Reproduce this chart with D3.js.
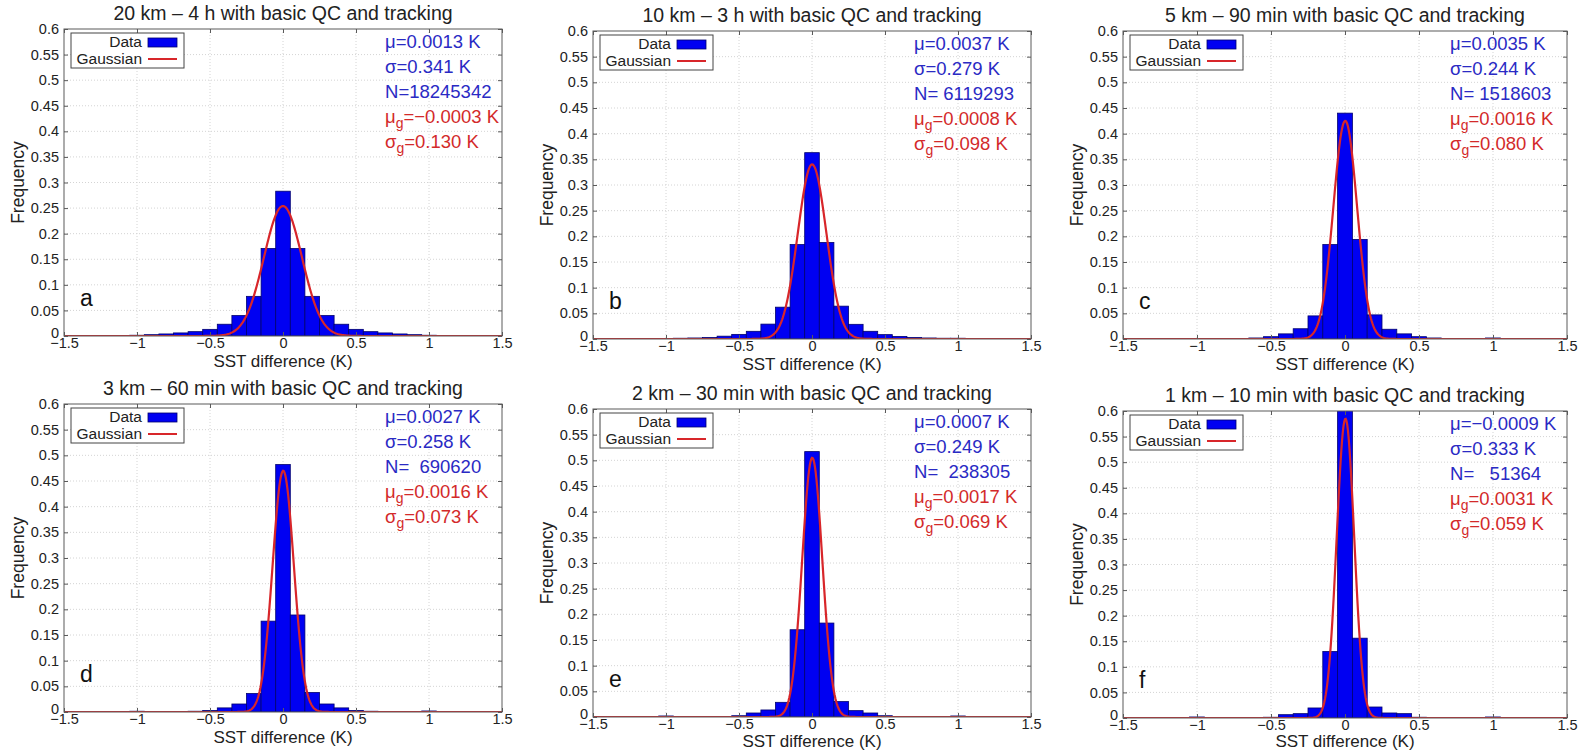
<!DOCTYPE html>
<html>
<head>
<meta charset="utf-8">
<script src="https://cdn.jsdelivr.net/npm/d3@7"></script>
<style>
    body { margin: 0; background: #fff; }
    svg { display: block; font-family: "Liberation Sans", Arial, sans-serif; }
</style>
</head>
<body>
<svg id="chart" width="1592" height="752"></svg>
<script>

//
// ***********************************************************************************
//                      DATA
// ***********************************************************************************
//

// Bin centres (K), bins are 0.1 K wide.
const binCenters = [-1.5, -1.4, -1.3, -1.2, -1.1, -1.0, -0.9, -0.8, -0.7, -0.6, -0.5, -0.4, -0.3, -0.2, -0.1,
    0, 0.1, 0.2, 0.3, 0.4, 0.5, 0.6, 0.7, 0.8, 0.9, 1.0, 1.1, 1.2, 1.3, 1.4, 1.5];

const xTicks = [-1.5, -1, -0.5, 0, 0.5, 1, 1.5];
const yTicks = [0, 0.05, 0.1, 0.15, 0.2, 0.25, 0.3, 0.35, 0.4, 0.45, 0.5, 0.55, 0.6];

const panelTitles = [
    "20 km \u2013 4 h with basic QC and tracking",
    "10 km \u2013 3 h with basic QC and tracking",
    "5 km \u2013 90 min with basic QC and tracking",
    "3 km \u2013 60 min with basic QC and tracking",
    "2 km \u2013 30 min with basic QC and tracking",
    "1 km \u2013 10 min with basic QC and tracking"
];
const panelLetters = ["a", "b", "c", "d", "e", "f"];

// Histogram frequencies, one array per panel (same order as binCenters).
const freqA = [0.0003, 0.0004, 0.0005, 0.0007, 0.001, 0.0015, 0.0026, 0.004, 0.006, 0.0085, 0.013, 0.023, 0.040, 0.0775, 0.171,
    0.283, 0.171, 0.0775, 0.040, 0.023, 0.013, 0.0085, 0.006, 0.004, 0.0026, 0.0015, 0.001, 0.0007, 0.0005, 0.0004, 0.0003];
const freqB = [0.0002, 0.0003, 0.0004, 0.0005, 0.0007, 0.001, 0.0015, 0.002, 0.003, 0.0055, 0.009, 0.015, 0.029, 0.062, 0.184,
    0.363, 0.188, 0.064, 0.0286, 0.015, 0.0085, 0.005, 0.003, 0.002, 0.0015, 0.0015, 0.0007, 0.0005, 0.0004, 0.0003, 0.0002];
const freqC = [0.0001, 0.0001, 0.0001, 0.0001, 0.0001, 0.001, 0.0005, 0.0007, 0.001, 0.002, 0.0045, 0.010, 0.020, 0.045, 0.184,
    0.440, 0.194, 0.047, 0.019, 0.010, 0.0045, 0.002, 0.001, 0.0007, 0.0005, 0.002, 0.0001, 0.0001, 0.0001, 0.0001, 0.0001];
const freqD = [0.0001, 0.0001, 0.0001, 0.0001, 0.0001, 0.0015, 0.0004, 0.0005, 0.0008, 0.0015, 0.003, 0.008, 0.0156, 0.036, 0.177,
    0.482, 0.189, 0.038, 0.0156, 0.008, 0.003, 0.0015, 0.0008, 0.0005, 0.0004, 0.002, 0.0001, 0.0001, 0.0001, 0.0001, 0.0001];
const freqE = [0.0002, 0.0002, 0.0002, 0.0002, 0.0002, 0.002, 0.0002, 0.0002, 0.0004, 0.001, 0.0025, 0.0078, 0.0137, 0.0286, 0.170,
    0.517, 0.183, 0.030, 0.0124, 0.0078, 0.0025, 0.001, 0.0004, 0.0002, 0.0002, 0.002, 0.0002, 0.0002, 0.0002, 0.0002, 0.0002];
const freqF = [0.0002, 0.0002, 0.0002, 0.0002, 0.0002, 0.002, 0.0002, 0.0002, 0.0004, 0.001, 0.0015, 0.0065, 0.0085, 0.0196, 0.130,
    0.620, 0.156, 0.0215, 0.0098, 0.0085, 0.0015, 0.001, 0.0004, 0.0002, 0.0002, 0.002, 0.0002, 0.0002, 0.0002, 0.0002, 0.0002];
const frequencies = [freqA, freqB, freqC, freqD, freqE, freqF];

// Statistics printed in each panel.
const statMu     = ["0.0013", "0.0037", "0.0035", "0.0027", "0.0007", "\u22120.0009"];
const statSigma  = ["0.341", "0.279", "0.244", "0.258", "0.249", "0.333"];
const statN      = ["18245342", " 6119293", " 1518603", "  690620", "  238305", "   51364"];
const gaussMu    = [-0.0003, 0.0008, 0.0016, 0.0016, 0.0017, 0.0031];
const gaussSigma = [0.130, 0.098, 0.080, 0.073, 0.069, 0.059];
const gaussPeak  = [0.254, 0.340, 0.425, 0.470, 0.505, 0.585];

//
// ***********************************************************************************
//                      LAYOUT
// ***********************************************************************************
//

const panelBoxes = [
    { left: 64,   right: 502,  top: 29,  bottom: 336 },
    { left: 593,  right: 1031, top: 31,  bottom: 339 },
    { left: 1123, right: 1567, top: 31,  bottom: 339 },
    { left: 64,   right: 502,  top: 404, bottom: 712 },
    { left: 593,  right: 1031, top: 409, bottom: 717 },
    { left: 1123, right: 1567, top: 411, bottom: 718 }
];

const BAR_FILL = "#0000f2";
const BAR_EDGE = "#00006e";
const CURVE = "#d8262a";
const TEXT_BLUE = "#2a2ac4";
const TEXT_RED = "#d32a2a";
const INK = "#222";

const svg = d3.select("#chart");

const fmtTick = d => d === 0 ? "0" : String(d).replace("-", "\u2212");

panelBoxes.forEach((box, i) => drawPanel(box, i));

function drawPanel(box, i) {

    const x = d3.scaleLinear().domain([-1.5, 1.5]).range([box.left, box.right]);
    const y = d3.scaleLinear().domain([0, 0.6]).range([box.bottom, box.top]);
    const g = svg.append("g").attr("class", "panel");

    const clipId = `clip-${i}`;
    g.append("clipPath").attr("id", clipId)
        .append("rect")
            .attr("x", box.left).attr("y", box.top)
            .attr("width", box.right - box.left).attr("height", box.bottom - box.top);

    // Dotted grid.
    g.append("g")
        .selectAll("line")
        .data(xTicks.slice(1, -1))
        .join("line")
            .attr("x1", d => x(d)).attr("x2", d => x(d))
            .attr("y1", box.top).attr("y2", box.bottom)
            .attr("stroke", "#d4d4d4").attr("stroke-dasharray", "1,2");
    g.append("g")
        .selectAll("line")
        .data(yTicks.slice(1, -1))
        .join("line")
            .attr("x1", box.left).attr("x2", box.right)
            .attr("y1", d => y(d)).attr("y2", d => y(d))
            .attr("stroke", "#d4d4d4").attr("stroke-dasharray", "1,2");

    // Histogram bars.
    const plot = g.append("g").attr("clip-path", `url(#${clipId})`);
    plot.selectAll("rect.bar")
        .data(binCenters.map((c, k) => ({ c, f: frequencies[i][k] })))
        .join("rect")
            .attr("class", "bar")
            .attr("x", d => x(d.c - 0.05))
            .attr("width", d => x(d.c + 0.05) - x(d.c - 0.05))
            .attr("y", d => y(d.f))
            .attr("height", d => y(0) - y(d.f))
            .attr("fill", BAR_FILL)
            .attr("stroke", BAR_EDGE)
            .attr("stroke-width", 0.8);

    // Fitted Gaussian, defined by the printed parameters.
    const xs = d3.range(-1.5, 1.5001, 0.005);
    const gauss = xs.map(v => [v, gaussPeak[i] * Math.exp(-0.5 * Math.pow((v - gaussMu[i]) / gaussSigma[i], 2))]);
    plot.append("path")
        .datum(gauss)
        .attr("d", d3.line().x(d => x(d[0])).y(d => y(d[1])))
        .attr("fill", "none")
        .attr("stroke", CURVE)
        .attr("stroke-width", 2.2);

    // Frame and inward ticks.
    g.append("rect")
        .attr("x", box.left).attr("y", box.top)
        .attr("width", box.right - box.left).attr("height", box.bottom - box.top)
        .attr("fill", "none").attr("stroke", "#5a5a5a").attr("stroke-width", 1);

    g.append("g")
        .attr("transform", `translate(0,${box.bottom})`)
        .call(d3.axisBottom(x).tickValues(xTicks).tickFormat(fmtTick).tickSizeInner(-4).tickSizeOuter(0).tickPadding(2))
        .call(a => a.select(".domain").remove())
        .call(a => a.selectAll("line").attr("stroke", "#5a5a5a"))
        .call(a => a.selectAll("text").attr("font-size", 14.5).attr("fill", INK));
    g.append("g")
        .attr("transform", `translate(0,${box.top})`)
        .call(d3.axisTop(x).tickValues(xTicks).tickFormat("").tickSizeInner(-4).tickSizeOuter(0))
        .call(a => a.select(".domain").remove())
        .call(a => a.selectAll("line").attr("stroke", "#5a5a5a"));
    g.append("g")
        .attr("transform", `translate(${box.left},0)`)
        .call(d3.axisLeft(y).tickValues(yTicks).tickFormat(d => String(d)).tickSizeInner(-4).tickSizeOuter(0).tickPadding(5))
        .call(a => a.select(".domain").remove())
        .call(a => a.selectAll("line").attr("stroke", "#5a5a5a"))
        .call(a => a.selectAll("text").attr("font-size", 14.5).attr("fill", INK))
        // Lift the "0" label a little so it sits above the x tick labels.
        .call(a => a.selectAll(".tick").filter(d => d === 0).select("text").attr("dy", "0.1em"));
    g.append("g")
        .attr("transform", `translate(${box.right},0)`)
        .call(d3.axisRight(y).tickValues(yTicks).tickFormat("").tickSizeInner(-4).tickSizeOuter(0))
        .call(a => a.select(".domain").remove())
        .call(a => a.selectAll("line").attr("stroke", "#5a5a5a"));

    // Titles and axis labels.
    const cx = (box.left + box.right) / 2;
    g.append("text")
        .attr("x", cx).attr("y", box.top - 9)
        .attr("text-anchor", "middle").attr("font-size", 19.5).attr("fill", INK)
        .text(panelTitles[i]);
    g.append("text")
        .attr("x", cx).attr("y", Math.min(box.bottom + 31, 747))
        .attr("text-anchor", "middle").attr("font-size", 17).attr("fill", INK)
        .text("SST difference (K)");
    g.append("text")
        .attr("transform", `translate(${box.left - 40},${(box.top + box.bottom) / 2}) rotate(-90)`)
        .attr("text-anchor", "middle").attr("font-size", 17.5).attr("fill", INK)
        .text("Frequency");
    g.append("text")
        .attr("x", box.left + 16).attr("y", box.bottom - 30)
        .attr("font-size", 23).attr("fill", "#111")
        .text(panelLetters[i]);

    // Legend.
    const lg = g.append("g").attr("transform", `translate(${box.left + 7},${box.top + 4})`);
    lg.append("rect")
        .attr("width", 113).attr("height", 35)
        .attr("fill", "#fff").attr("stroke", "#444").attr("stroke-width", 1);
    lg.append("text")
        .attr("x", 71).attr("y", 14)
        .attr("text-anchor", "end").attr("font-size", 15.5).attr("fill", INK)
        .text("Data");
    lg.append("rect")
        .attr("x", 77).attr("y", 5).attr("width", 29).attr("height", 9)
        .attr("fill", BAR_FILL).attr("stroke", BAR_EDGE).attr("stroke-width", 0.8);
    lg.append("text")
        .attr("x", 71).attr("y", 31)
        .attr("text-anchor", "end").attr("font-size", 15.5).attr("fill", INK)
        .text("Gaussian");
    lg.append("line")
        .attr("x1", 77).attr("x2", 106).attr("y1", 26).attr("y2", 26)
        .attr("stroke", CURVE).attr("stroke-width", 2);

    // Statistics text.
    const lines = [
        { c: TEXT_BLUE, sym: "\u03bc", sub: false, val: `=${statMu[i]} K` },
        { c: TEXT_BLUE, sym: "\u03c3", sub: false, val: `=${statSigma[i]} K` },
        { c: TEXT_BLUE, sym: "N", sub: false, val: `=${statN[i]}` },
        { c: TEXT_RED, sym: "\u03bc", sub: true, val: `=${d3.format(".4f")(gaussMu[i]).replace("-", "\u2212")} K` },
        { c: TEXT_RED, sym: "\u03c3", sub: true, val: `=${d3.format(".3f")(gaussSigma[i])} K` }
    ];
    lines.forEach((l, k) => {
        const t = g.append("text")
            .attr("x", box.right - 117).attr("y", box.top + 19 + k * 25)
            .attr("font-size", 18.5).attr("fill", l.c)
            .style("white-space", "pre");
        t.append("tspan").text(l.sym);
        if (l.sub) {
            t.append("tspan").attr("dy", 5).attr("font-size", 14).text("g");
            t.append("tspan").attr("dy", -5).text(l.val);
        } else {
            t.append("tspan").text(l.val);
        }
    });
}
</script>
</body>
</html>
